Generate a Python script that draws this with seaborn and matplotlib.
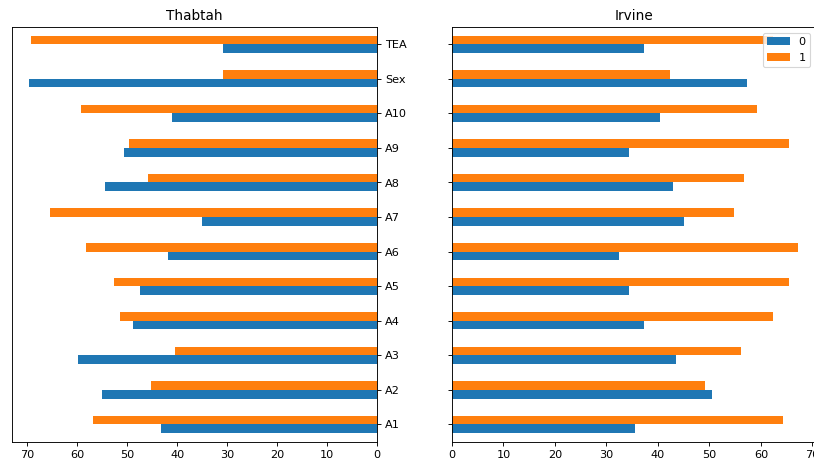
import pandas as pd
import seaborn as sns
import matplotlib.pyplot as plt

# features, bottom to top in the chart
features = ['A1', 'A2', 'A3', 'A4', 'A5', 'A6', 'A7', 'A8', 'A9', 'A10', 'Sex', 'TEA']

# percentages per class (0 / 1)
thabtah_0 = [43.3, 55.0, 59.9, 48.8, 47.5, 41.9, 35.1, 54.5, 50.7, 41.0, 69.6, 30.9]
thabtah_1 = [56.9, 45.3, 40.5, 51.5, 52.7, 58.3, 65.4, 45.8, 49.6, 59.3, 30.8, 69.3]
irvine_0 = [35.5, 50.5, 43.5, 37.3, 34.3, 32.4, 45.0, 43.0, 34.3, 40.4, 57.3, 37.3]
irvine_1 = [64.2, 49.2, 56.1, 62.4, 65.4, 67.3, 54.8, 56.7, 65.4, 59.3, 42.3, 62.3]


def to_long(v0, v1):
    df = pd.DataFrame({'feature': features, '0': v0, '1': v1})
    return df.melt(id_vars='feature', var_name='cls', value_name='pct')


palette = {'0': '#1f77b4', '1': '#ff7f0e'}
order = features[::-1]

# 10 in wide at 81.4 dpi -> 814 px, text scaled like the reference
fig = plt.figure(figsize=(10, 5.676), dpi=81.4)
ax1 = fig.add_axes([12 / 814, 0.0439, 365 / 814, 0.8977])
ax2 = fig.add_axes([452 / 814, 0.0439, 364 / 814, 0.8977])

for ax, v0, v1, title in [(ax1, thabtah_0, thabtah_1, 'Thabtah'),
                          (ax2, irvine_0, irvine_1, 'Irvine')]:
    sns.barplot(data=to_long(v0, v1), y='feature', x='pct', hue='cls',
                order=order, hue_order=['1', '0'], palette=palette,
                width=0.5, saturation=1, linewidth=0, orient='h', ax=ax)
    ax.set_title(title)
    ax.set_xlabel('')
    ax.set_ylabel('')
    ax.set_ylim(len(features) - 0.5, -0.5)

# left panel mirrored, labels on the right
ax1.set_xlim(73.1, 0)
ax1.yaxis.tick_right()
ax1.get_legend().remove()

ax2.set_xlim(0, 70.7)
ax2.set_yticklabels([])
h, l = ax2.get_legend_handles_labels()
ax2.legend([h[1], h[0]], [l[1], l[0]], loc='upper right', title=None)

fig.savefig('out.png', dpi=81.4)
